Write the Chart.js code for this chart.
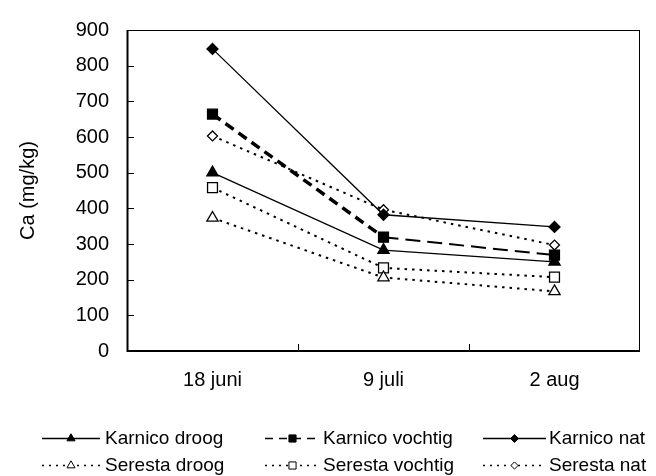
<!DOCTYPE html>
<html>
<head>
<meta charset="utf-8">
<script src="https://cdn.jsdelivr.net/npm/chart.js@4/dist/chart.umd.min.js"></script>
<style>
  html, body { margin: 0; padding: 0; background: #fff; }
  #wrap { width: 656px; height: 476px; }
</style>
</head>
<body>
<div id="wrap"><canvas id="caChart" width="656" height="476"></canvas></div>
<script>
// data
const dates = ["18 juni", "9 juli", "2 aug"];
const karnicoDroog = [500, 283, 250];
const karnicoVochtig = [664, 319, 269];
const karnicoNat = [847, 382, 348];
const serestaDroog = [373, 206, 167];
const serestaVochtig = [458, 233, 207];
const serestaNat = [603, 396, 297];
const yTicks = { min: 0, max: 900, step: 100 };

const FONT = "'Liberation Sans', Arial, sans-serif";

// ticks naar binnen + kader rond plotgebied
const frame = {
  id: "frame",
  afterDraw(chart) {
    const { ctx, chartArea: a, scales } = chart;
    ctx.save();
    ctx.strokeStyle = "#000";
    ctx.lineWidth = 1;
    ctx.strokeRect(a.left + 0.5, a.top + 0.5, a.right - a.left - 1, a.bottom - a.top);
    ctx.lineWidth = 2;
    ctx.beginPath();
    ctx.moveTo(a.left + 0.5, a.top);
    ctx.lineTo(a.left + 0.5, a.bottom);
    ctx.lineTo(a.right, a.bottom);
    ctx.stroke();
    ctx.lineWidth = 1;
    ctx.beginPath();
    scales.y.ticks.forEach((t) => {
      const y = Math.round(scales.y.getPixelForValue(t.value)) + 0.5;
      ctx.moveTo(a.left, y);
      ctx.lineTo(a.left + 7, y);
    });
    for (let i = 1; i < dates.length; i++) {
      const x = Math.round((scales.x.getPixelForValue(i - 1) + scales.x.getPixelForValue(i)) / 2) + 0.5;
      ctx.moveTo(x, a.bottom);
      ctx.lineTo(x, a.bottom - 7);
    }
    ctx.stroke();
    ctx.restore();
  },
};

// legenda met lijn + marker, 3 kolommen x 2 rijen
const legendBox = {
  id: "legendBox",
  afterDraw(chart) {
    const ctx = chart.ctx;
    const colLine = [[42, 100], [265, 320], [483, 546]];
    const colText = [105, 323, 549];
    const rowY = [438, 465];
    ctx.save();
    chart.data.datasets.forEach((ds, i) => {
      const c = i % 3;
      const y = rowY[Math.floor(i / 3)] + 0.5;
      ctx.strokeStyle = "#000";
      ctx.lineWidth = ds.legendWidth;
      ctx.setLineDash(ds.legendDash);
      ctx.beginPath();
      ctx.moveTo(colLine[c][0], y);
      ctx.lineTo(colLine[c][1], y);
      ctx.stroke();
      ctx.setLineDash([]);
      ctx.fillStyle = ds.pointBackgroundColor;
      ctx.lineWidth = 1;
      Chart.helpers.drawPoint(ctx, {
        pointStyle: ds.pointStyle,
        radius: ds.pointRadius * 0.72,
        rotation: 0,
        borderWidth: 1,
      }, (colLine[c][0] + colLine[c][1]) / 2, y);
      ctx.fillStyle = "#000";
      ctx.font = "19px " + FONT;
      ctx.textBaseline = "middle";
      ctx.fillText(ds.label, colText[c], y);
    });
    ctx.restore();
  },
};

function serie(label, data, style) {
  return Object.assign({
    label: label,
    data: data,
    borderColor: "#000",
    pointBorderColor: "#000",
    pointBorderWidth: 1.3,
    fill: false,
    tension: 0,
  }, style);
}

const datasets = [
  serie("Karnico droog", karnicoDroog, {
    borderWidth: 1.3, borderDash: [], pointStyle: "triangle", pointRadius: 6.5,
    pointBackgroundColor: "#000", legendDash: [], legendWidth: 1.3,
  }),
  serie("Karnico vochtig", karnicoVochtig, {
    borderWidth: 2, borderDash: [15, 7], pointStyle: "rect", pointRadius: 7,
    pointBackgroundColor: "#000", legendDash: [8, 6], legendWidth: 1.5,
    segment: {
      borderWidth: (ctx) => (ctx.p0DataIndex === 0 ? 3.5 : 2),
      borderDash: (ctx) => (ctx.p0DataIndex === 0 ? [10, 6] : [15, 7]),
    },
  }),
  serie("Karnico nat", karnicoNat, {
    borderWidth: 1.3, borderDash: [], pointStyle: "rectRot", pointRadius: 5.5,
    pointBackgroundColor: "#000", legendDash: [], legendWidth: 1.3,
  }),
  serie("Seresta droog", serestaDroog, {
    borderWidth: 2, borderDash: [2.5, 5], pointStyle: "triangle", pointRadius: 6.5,
    pointBackgroundColor: "#fff", legendDash: [2, 5], legendWidth: 1.5,
  }),
  serie("Seresta vochtig", serestaVochtig, {
    borderWidth: 2, borderDash: [2.5, 5], pointStyle: "rect", pointRadius: 7,
    pointBackgroundColor: "#fff", legendDash: [2, 5], legendWidth: 1.5,
  }),
  serie("Seresta nat", serestaNat, {
    borderWidth: 2, borderDash: [2.5, 5], pointStyle: "rectRot", pointRadius: 5,
    pointBackgroundColor: "#fff", legendDash: [2, 5], legendWidth: 1.5,
  }),
];

const caChart = new Chart(document.getElementById("caChart").getContext("2d"), {
  type: "line",
  data: { labels: dates, datasets: datasets },
  options: {
    responsive: false,
    animation: false,
    devicePixelRatio: 1,
    layout: { padding: { left: 0, right: 16, top: 17, bottom: 0 } },
    plugins: {
      legend: { display: false },
      tooltip: { enabled: false },
    },
    scales: {
      x: {
        offset: true,
        grid: { display: false, drawTicks: false },
        border: { display: false },
        ticks: { color: "#000", padding: 17, font: { family: FONT, size: 20 } },
        afterFit(scale) { scale.height = 125; },
      },
      y: {
        min: yTicks.min,
        max: yTicks.max,
        grid: { display: false, drawTicks: false },
        border: { display: false },
        ticks: { stepSize: yTicks.step, color: "#000", padding: 18, font: { family: FONT, size: 20 } },
        title: {
          display: true,
          text: "Ca (mg/kg)",
          color: "#000",
          padding: { top: 16, bottom: 0 },
          font: { family: FONT, size: 20 },
        },
        afterFit(scale) { scale.width = 127; },
      },
    },
  },
  plugins: [frame, legendBox],
});
</script>
</body>
</html>
